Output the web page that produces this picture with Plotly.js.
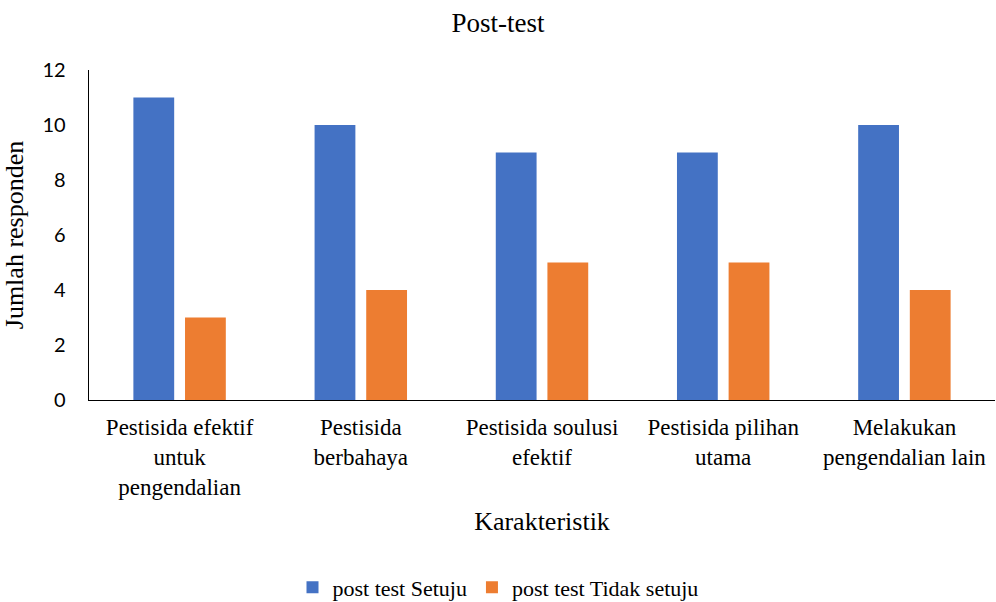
<!DOCTYPE html>
<html><head><meta charset="utf-8">
<script src="https://cdn.plot.ly/plotly-3.0.1.min.js"></script>
<style>body{margin:0;background:#fff}#c{width:996px;height:602px}</style>
</head><body><div id="c"></div>
<script>
const categories = ["Pestisida efektif<br>untuk<br>pengendalian", "Pestisida<br>berbahaya", "Pestisida soulusi<br>efektif", "Pestisida pilihan<br>utama", "Melakukan<br>pengendalian lain"];
const setuju = [11, 10, 9, 9, 10];
const tidakSetuju = [3, 4, 5, 5, 4];
const seriesNames = ["post test Setuju", "post test Tidak setuju"];
const yTicks = [0, 2, 4, 6, 8, 10, 12];

const serif = "Liberation Serif";
const data = [
  {type: "bar", x: categories, y: setuju, name: seriesNames[0], marker: {color: "#4472C4"}, hoverinfo: "y"},
  {type: "bar", x: categories, y: tidakSetuju, name: seriesNames[1], marker: {color: "#ED7D31"}, hoverinfo: "y"}
];
const layout = {
  width: 996, height: 602,
  margin: {l: 89, r: 1, t: 70, b: 202},
  paper_bgcolor: "#fff", plot_bgcolor: "#fff",
  barmode: "group", bargap: 0.43, bargroupgap: 0.21,
  title: {text: "Post-test", font: {family: serif, size: 27, color: "#000"}, x: 0.5, xanchor: "center", y: 0.963, yanchor: "middle"},
  xaxis: {
    title: {text: "Karakteristik", font: {family: serif, size: 26, color: "#000"}, standoff: 13},
    tickfont: {family: serif, size: 23, color: "#000"}, ticklabelstandoff: 6,
    showline: true, linecolor: "#000", linewidth: 1.3, ticks: "", showgrid: false, zeroline: false,
    automargin: false
  },
  yaxis: {
    title: {text: "Jumlah responden", font: {family: serif, size: 26, color: "#000"}, standoff: 14},
    tickfont: {family: "Lato", size: 20, color: "#000"},
    range: [0, 12], tickvals: yTicks, ticktext: yTicks.map(String),
    showline: true, linecolor: "#000", linewidth: 1.3, ticks: "outside", ticklen: 18, tickcolor: "rgba(0,0,0,0)",
    showgrid: false, zeroline: false, automargin: false
  },
  showlegend: true,
  legend: {orientation: "h", x: 0.5, xanchor: "center", xref: "container", yref: "container", y: 0.024, yanchor: "middle",
    font: {family: serif, size: 22, color: "#000"}, traceorder: "normal", itemwidth: 30},
};
Plotly.newPlot("c", data, layout, {displayModeBar: false, staticPlot: true});
</script></body></html>
